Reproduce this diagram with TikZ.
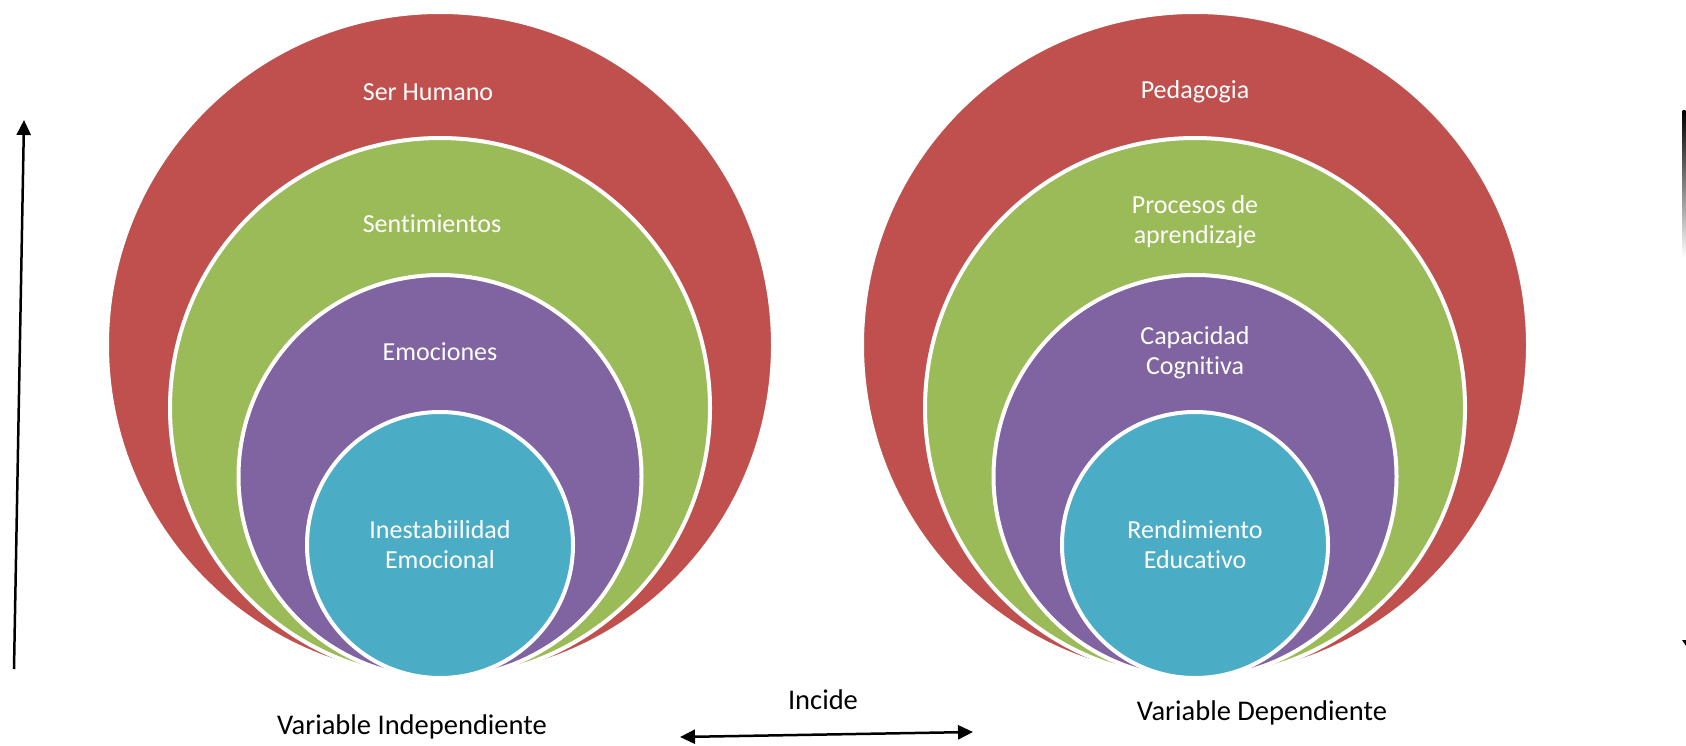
\documentclass[tikz,border=0pt]{standalone}
\usepackage{fontspec}
\setmainfont{Carlito}[Ligatures={NoCommon}]
\usetikzlibrary{arrows.meta}
\definecolor{cred}{HTML}{C0504D}
\definecolor{cgreen}{HTML}{9BBB59}
\definecolor{cpurple}{HTML}{8064A2}
\definecolor{cblue}{HTML}{4BACC6}
\begin{document}
\begin{tikzpicture}[x=1pt,y=-1pt,
  ring/.style={circle, draw=white, line width=4pt, inner sep=0pt},
  intext/.style={text=white, align=center, font=\fontsize{26}{30}\selectfont, inner sep=0pt},
  outtext/.style={text=black, align=center, font=\fontsize{28.5}{33}\selectfont, inner sep=0pt},
  arr/.style={line width=2.5pt, -{Triangle[length=15pt,width=14pt]}},
  darr/.style={line width=2.5pt, {Triangle[length=15pt,width=14pt]}-{Triangle[length=15pt,width=14pt]}}]
\useasboundingbox (0,0) rectangle (1686,746);
% left set
\node[ring, fill=cred, minimum size=666pt] (lr) at (440,345) {};
\node[ring, fill=cgreen, minimum size=540pt] (lg) at (440,408) {};
\node[ring, fill=cpurple, minimum size=403pt] (lp) at (440,476.5) {};
\node[ring, fill=cblue, minimum size=266pt] (lb) at (440,545) {};
\node[intext] (t1) at (428,92) {Ser Humano};
\node[intext] (t2) at (432,224) {Sentimientos};
\node[intext] (t3) at (440,352) {Emociones};
\node[intext] (t4) at (440,545) {Inestabiilidad\\Emocional};
% right set
\node[ring, fill=cred, minimum size=666pt] (rr) at (1195,345) {};
\node[ring, fill=cgreen, minimum size=540pt] (rg) at (1195,408) {};
\node[ring, fill=cpurple, minimum size=403pt] (rp) at (1195,476.5) {};
\node[ring, fill=cblue, minimum size=266pt] (rb) at (1195,545) {};
\node[intext] (u1) at (1195,92) {Pedagogia};
\node[intext] (u2) at (1195,222) {Procesos de\\aprendizaje};
\node[intext] (u3) at (1195,353) {Capacidad\\Cognitiva};
\node[intext] (u4) at (1195,545) {Rendimiento\\Educativo};
% bottom labels
\node[outtext] (vi) at (412,727) {Variable Independiente};
\node[outtext] (inc) at (823,700) {Incide};
\node[outtext] (vd) at (1262,713) {Variable Dependiente};
% arrows
\coordinate (la0) at (14,669);
\coordinate (la1) at (24,120);
\draw[arr] (la0) -- (la1);
\coordinate (ba0) at (680,737);
\coordinate (ba1) at (973,732);
\draw[darr] (ba0) -- (ba1);
% right edge fading line and cut arrow tip
\shade[top color=black, bottom color=white] (1682.5,111) rectangle (1685.5,258);
\fill[black] (1682,640) -- (1686,640) -- (1686,646) -- cycle;
\end{tikzpicture}
\end{document}
